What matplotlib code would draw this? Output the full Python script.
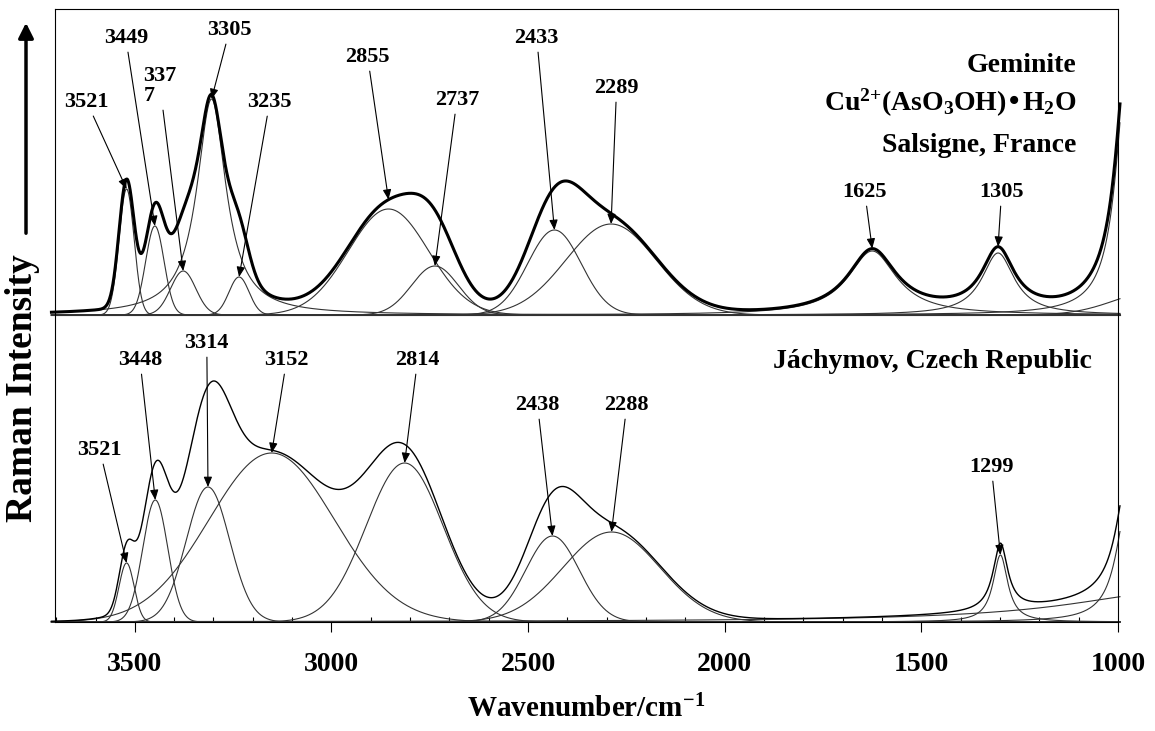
import numpy as np
import matplotlib
matplotlib.use('Agg')
import matplotlib.pyplot as plt
from matplotlib.patches import FancyArrowPatch
from matplotlib.ticker import MultipleLocator

plt.rcParams['font.family'] = ['Liberation Serif', 'DejaVu Serif']
plt.rcParams['font.weight'] = 'bold'
plt.rcParams['axes.labelweight'] = 'bold'
plt.rcParams['mathtext.default'] = 'regular'

# Geminite, Salsigne (obere Spur): Bandenlage, Hoehe, Halbwertsbreite, Profil
upper_pos = [3521, 3449, 3377, 3305, 3235, 2855, 2737, 2433, 2289, 1625, 1305, 975, 900]
upper_height = [126, 89, 44, 216, 38, 106, 49, 85, 91, 64, 62, 255, 24]
upper_fwhm = [45, 55, 75, 90, 60, 240, 140, 160, 270, 150, 100, 70, 254]
upper_shape = ['G', 'G', 'G', 'L', 'G', 'G', 'G', 'G', 'G', 'L', 'L', 'L', 'G']
upper_labels = ['3521', '3449', '337\n7', '3305', '3235', '2855', '2737',
                '2433', '2289', '1625', '1305']

# Jachymov (untere Spur)
lower_pos = [3521, 3448, 3314, 3152, 2814, 2438, 2288, 1299, 975, 855]
lower_height = [59, 122, 135, 169, 159, 86, 90, 67, 120, 30]
lower_fwhm = [45, 75, 130, 375, 230, 160, 290, 45, 70, 650]
lower_shape = ['G', 'G', 'G', 'G', 'G', 'G', 'G', 'L', 'L', 'L']
lower_labels = ['3521', '3448', '3314', '3152', '2814', '2438', '2288', '1299']

# Layout
upper_offset = 307
upper_label_xy = [(3622, 520), (3523, 584), (3436, 536), (3259, 592), (3157, 520),
                  (2908, 565), (2681, 522), (2478, 584), (2275, 534),
                  (1644, 430), (1296, 430)]
upper_tip_on_sum = [False, False, False, False, False, True, False, False, False,
                    True, True]
lower_label_xy = [(3589, 172), (3487, 262), (3317, 279), (3114, 262), (2781, 262),
                  (2476, 217), (2249, 217), (1322, 155)]


def band(x, pos, height, fwhm, shape):
    if shape == 'L':
        return height / (1 + ((x - pos) / (fwhm / 2)) ** 2)
    s = fwhm / 2.3548
    return height * np.exp(-0.5 * ((x - pos) / s) ** 2)


x = np.linspace(3712, 995, 2800)

fig = plt.figure(figsize=(11.55, 7.31), dpi=100)
ax = fig.add_axes([55 / 1155, 1 - 622 / 731, 1063 / 1155, 613 / 731])
ax.set_xlim(3703, 1000)
ax.set_ylim(0, 613)

comp_kw = dict(color='#333333', lw=0.8, clip_on=False)
arrow_kw = dict(arrowstyle='-|>,head_length=0.6,head_width=0.25',
                mutation_scale=10, lw=0.8, color='black', shrinkA=1, shrinkB=0)

# obere Spur
up_bands = [band(x, p, h, w, s) for p, h, w, s in
            zip(upper_pos, upper_height, upper_fwhm, upper_shape)]
up_sum = np.sum(up_bands, axis=0)
ax.plot([x[0], x[-1]], [upper_offset, upper_offset], color='black', lw=0.8,
        clip_on=False)
for b in up_bands:
    ax.plot(x, upper_offset + b, **comp_kw)
ax.plot(x, upper_offset + up_sum, color='black', lw=2.2, clip_on=False)

for i, lab in enumerate(upper_labels):
    if upper_tip_on_sum[i]:
        tip = np.interp(upper_pos[i], x[::-1], up_sum[::-1])
    else:
        tip = upper_height[i]
    ax.annotate(lab, xy=(upper_pos[i], upper_offset + tip), xytext=upper_label_xy[i],
                ha='center', va='center', fontsize=16, linespacing=1.0,
                multialignment='left', arrowprops=arrow_kw)

# untere Spur
lo_bands = [band(x, p, h, w, s) for p, h, w, s in
            zip(lower_pos, lower_height, lower_fwhm, lower_shape)]
lo_sum = np.sum(lo_bands, axis=0)
for b in lo_bands:
    ax.plot(x, b, **comp_kw)
ax.plot(x, lo_sum, color='black', lw=1.0, clip_on=False)

for i, lab in enumerate(lower_labels):
    ax.annotate(lab, xy=(lower_pos[i], lower_height[i]), xytext=lower_label_xy[i],
                ha='center', va='center', fontsize=16, arrowprops=arrow_kw)

# Probenbeschriftung
ax.text(1105, 557, 'Geminite', ha='right', va='center', fontsize=20)
ax.text(1105, 519, r'Cu$^{2{+}}$(AsO$_3$OH)•H$_2$O', ha='right', va='center', fontsize=20)
ax.text(1105, 477, 'Salsigne, France', ha='right', va='center', fontsize=20)
ax.text(1067, 260, 'Jáchymov, Czech Republic', ha='right', va='center', fontsize=20)

# Achsen
ax.set_xticks([3500, 3000, 2500, 2000, 1500, 1000])
ax.xaxis.set_minor_locator(MultipleLocator(100))
ax.tick_params(axis='x', which='major', direction='out', length=7.5, width=0.8,
               pad=14, labelsize=20)
ax.tick_params(axis='x', which='minor', direction='in', length=3.5, width=0.8)
ax.set_yticks([])
for sp in ax.spines.values():
    sp.set_linewidth(0.8)
ax.set_xlabel('Wavenumber/cm$^{-1}$', fontsize=21)
ax.xaxis.set_label_coords(0.5, -0.119)

fig.text(23 / 1155, 1 - 388 / 731, 'Raman Intensity', rotation=90,
         ha='center', va='center', fontsize=27)
fig.add_artist(FancyArrowPatch((26 / 1155, 1 - 236 / 731), (26 / 1155, 1 - 20 / 731),
                               transform=fig.transFigure,
                               arrowstyle='-|>,head_length=0.9,head_width=0.45',
                               mutation_scale=10, lw=2.5, color='black'))

fig.savefig('out.png', dpi=100)
